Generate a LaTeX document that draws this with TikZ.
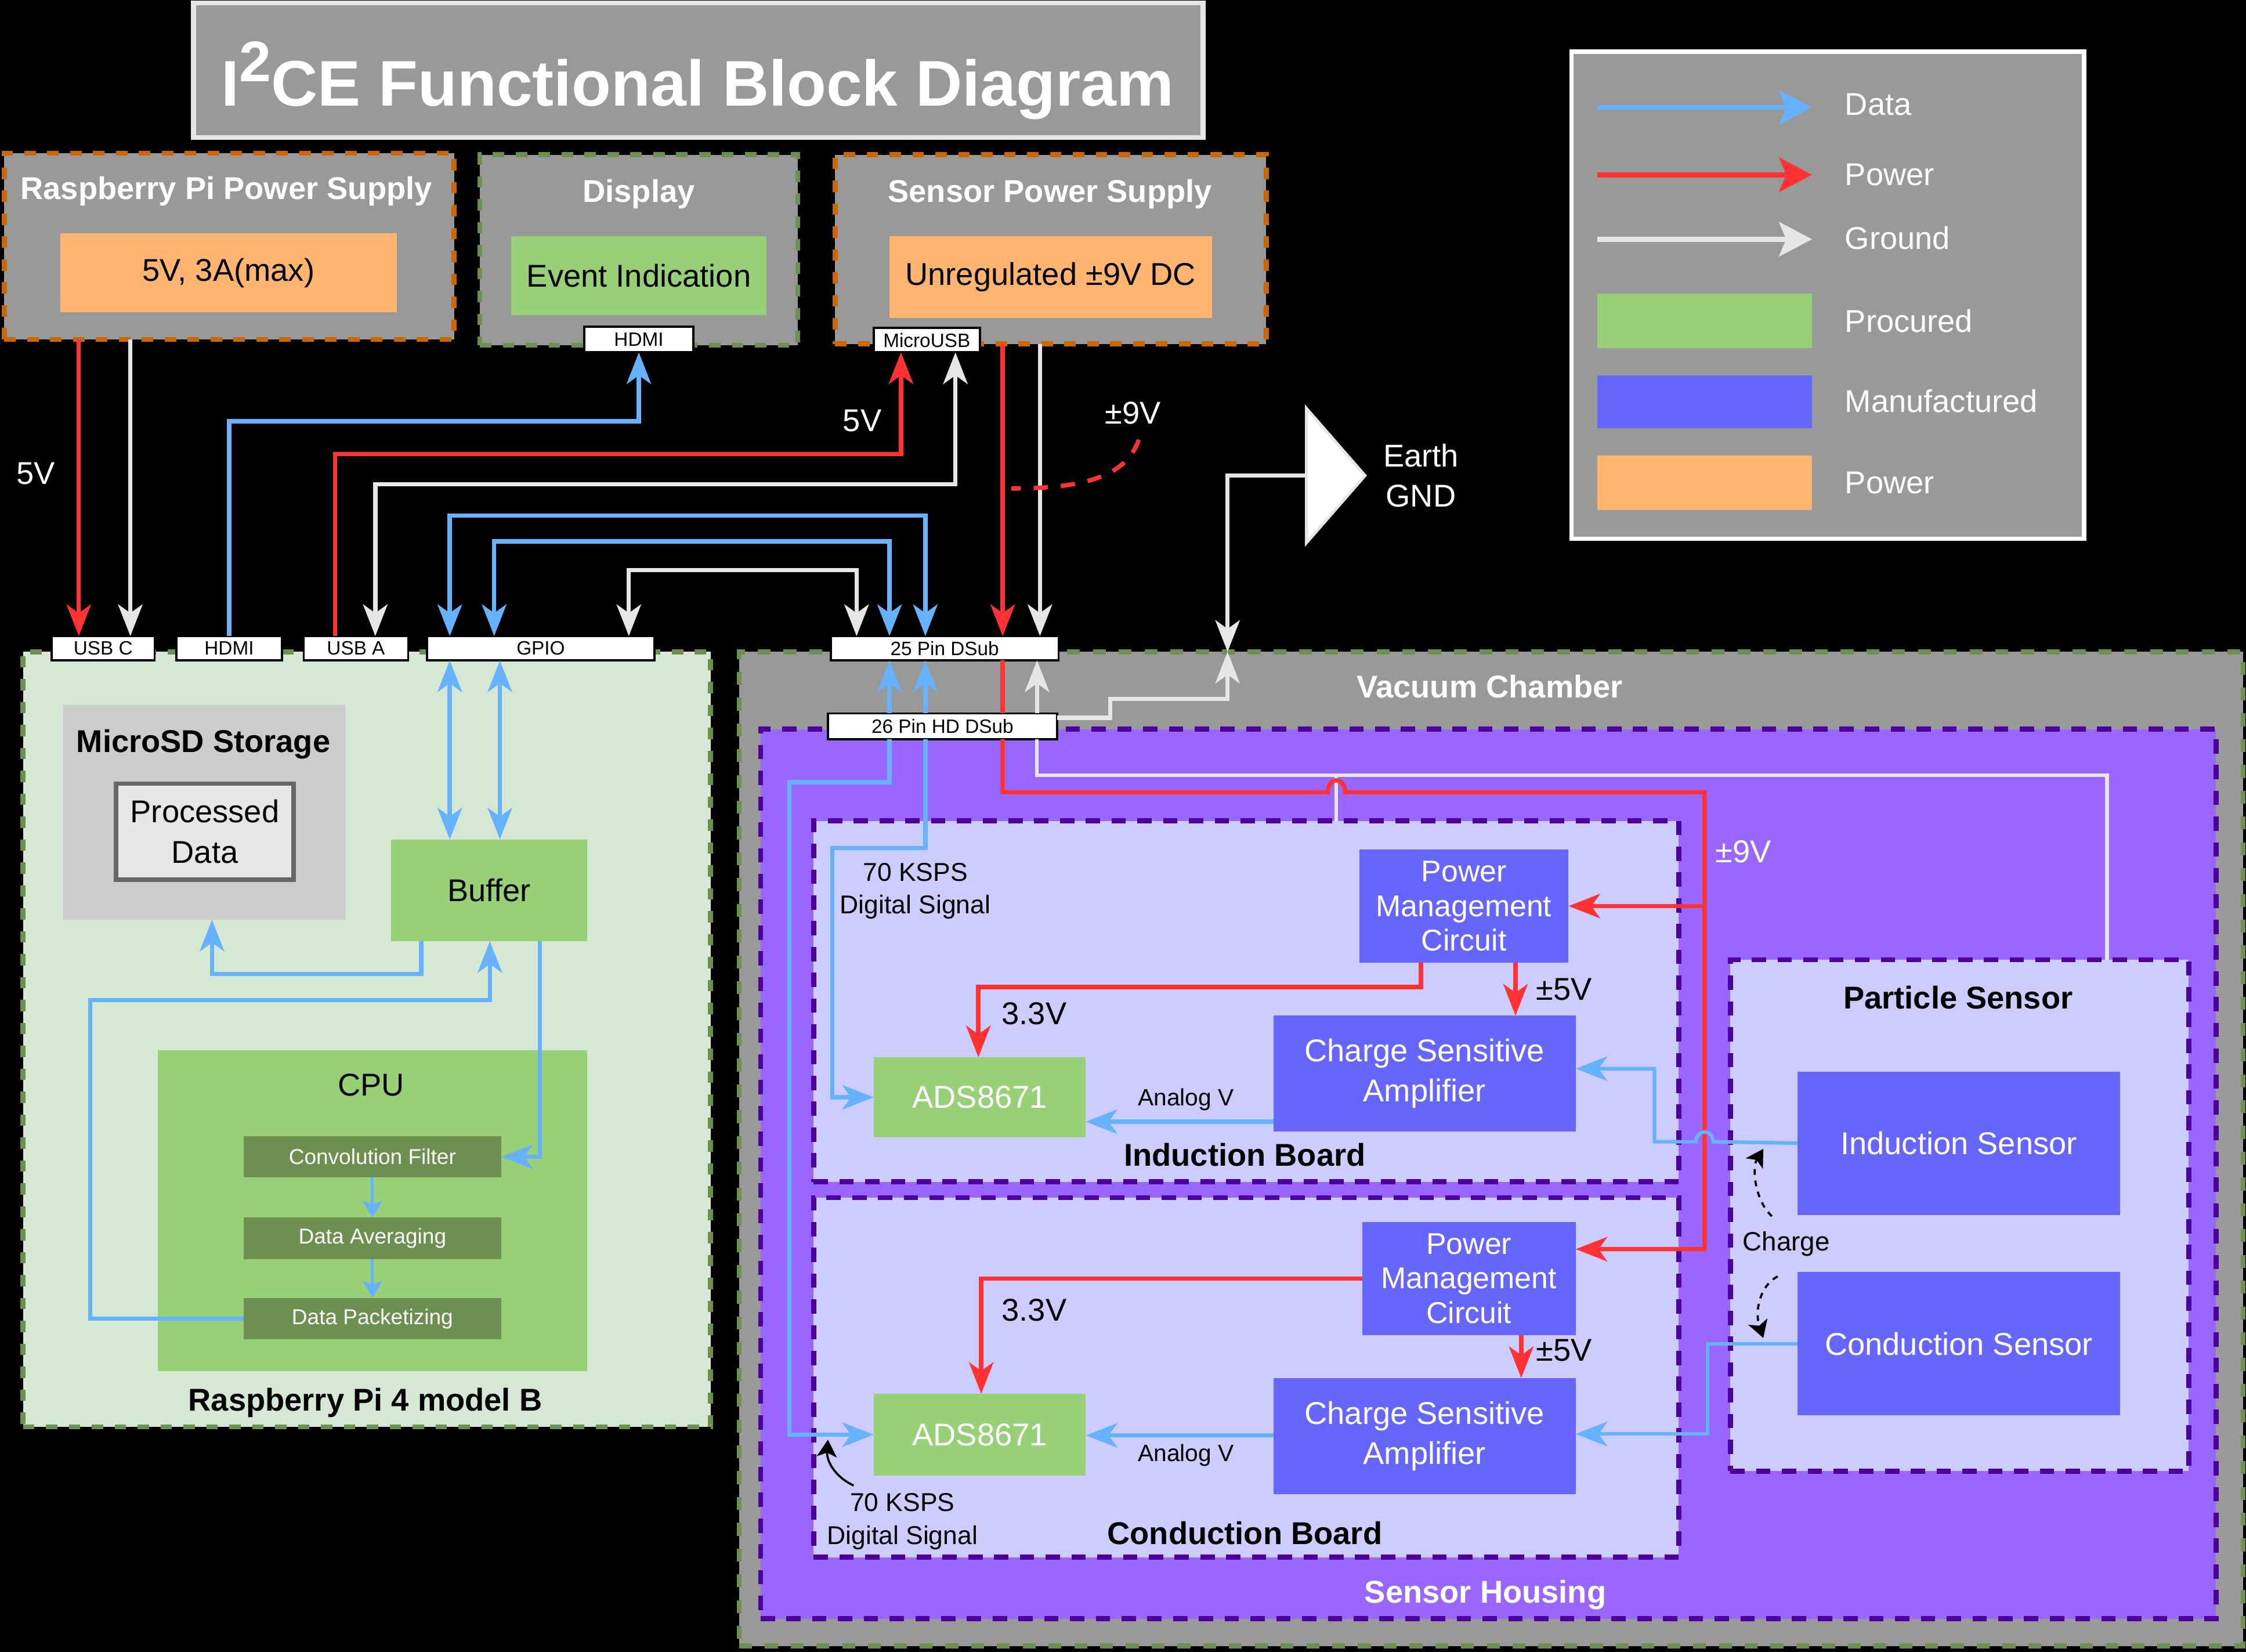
\documentclass[tikz,border=0pt]{standalone}
\usepackage{fontspec}
\setmainfont{Liberation Sans}
\usepackage{tikz}
\usetikzlibrary{arrows.meta,positioning,calc}
\usepackage{xcolor}
\definecolor{boxgray}{HTML}{999999}
\definecolor{gndgray}{HTML}{E6E6E6}
\definecolor{datablue}{HTML}{66B2FF}
\definecolor{pwrred}{HTML}{FF3333}
\definecolor{procgreen}{HTML}{97D077}
\definecolor{manublue}{HTML}{6666FF}
\definecolor{pwrorange}{HTML}{FFB570}
\definecolor{orgdash}{HTML}{CC6600}
\definecolor{grndash}{HTML}{6D8F50}
\definecolor{rpigreen}{HTML}{D5E8D4}
\definecolor{housingfill}{HTML}{9966FF}
\definecolor{purpdash}{HTML}{4C0099}
\definecolor{boardfill}{HTML}{CCCCFF}
\definecolor{sdgray}{HTML}{CCCCCC}
\definecolor{cpugreen}{HTML}{6D8F50}

\begin{document}
\begin{tikzpicture}[x=1pt,y=-1pt,>={Stealth[length=22pt,width=17pt,inset=6pt]},
  every node/.style={font=\fontsize{22}{26}\selectfont,inner sep=0pt,outer sep=0pt}]
\tikzstyle{grpbox}=[fill=boxgray,line width=3.5pt,dash pattern=on 8pt off 8pt]
\tikzstyle{port}=[draw=black,fill=white,line width=1.5pt,font=\fontsize{13.5}{16}\selectfont]
\tikzstyle{procbox}=[fill=procgreen]
\tikzstyle{manubox}=[fill=manublue,text=white,align=center]
\tikzstyle{pwrbox}=[fill=pwrorange]
\tikzstyle{board}=[fill=boardfill,draw=purpdash,line width=3.5pt,dash pattern=on 10pt off 8pt]
\tikzstyle{ttl}=[anchor=base,font=\bfseries\fontsize{22}{26}\selectfont]
\tikzstyle{lbl}=[anchor=base]
\tikzstyle{dataline}=[draw=datablue,line width=3pt]
\tikzstyle{pwrline}=[draw=pwrred,line width=3pt]
\tikzstyle{gndline}=[draw=gndgray,line width=3pt]
\tikzstyle{smalltip}=[-{Stealth[length=12pt,width=14pt,inset=3pt]}]
\tikzstyle{cpustep}=[fill=cpugreen,text=white,minimum width=180pt,minimum height=29pt,font=\fontsize{15}{18}\selectfont]
\useasboundingbox (0,0) rectangle (1568,1153);
\fill[black] (0,0) rectangle (1568,1153);

% title and legend
\node[draw=gndgray,line width=3.5pt,fill=boxgray,minimum width=705pt,minimum height=94pt] (title) at (487.5,49) {};
\node[anchor=base,text=white,font=\bfseries\fontsize{45}{54}\selectfont] (titlet) at (487,74) {I\raisebox{17pt}{\fontsize{40}{40}\selectfont 2}CE Functional Block Diagram};
\node[draw=white,line width=3pt,fill=boxgray,minimum width=358pt,minimum height=340pt] (legend) at (1276,206) {};
\node[procbox,minimum width=150pt,minimum height=38pt] (swproc) at (1190,224) {};
\node[fill=manublue,minimum width=150pt,minimum height=37pt] (swmanu) at (1190,280.5) {};
\node[pwrbox,minimum width=150pt,minimum height=38pt] (swpwr) at (1190,337) {};
\coordinate (lgdata) at (1115,75);
\coordinate (lgpwr) at (1115,122);
\coordinate (lggnd) at (1115,167);
\draw[dataline,line width=3.5pt,-{Stealth[length=23pt,width=24pt,inset=5pt]}] (lgdata) -- (lgdata -| swproc.east);
\draw[pwrline,line width=3.5pt,-{Stealth[length=23pt,width=24pt,inset=5pt]}] (lgpwr) -- (lgpwr -| swproc.east);
\draw[gndline,line width=3.5pt,-{Stealth[length=23pt,width=24pt,inset=5pt]}] (lggnd) -- (lggnd -| swproc.east);
\node[anchor=west,text=white] (lgdatat) at (1288,73) {Data};
\node[anchor=west,text=white] (lgpwrt) at (1288,122) {Power};
\node[anchor=west,text=white] (lggndt) at (1288,166) {Ground};
\node[anchor=west,text=white] (lgproct) at (1288,224) {Procured};
\node[anchor=west,text=white] (lgmanut) at (1288,280) {Manufactured};
\node[anchor=west,text=white] (lgpwrbt) at (1288,337) {Power};

% supplies and display
\node[grpbox,draw=orgdash,minimum width=314pt,minimum height=130pt] (rpips) at (160,172) {};
\node[ttl,text=white] (rpipst) at (158,139) {Raspberry Pi Power Supply};
\node[pwrbox,minimum width=235pt,minimum height=55pt] (rpipsv) at (159.5,190.5) {5V, 3A(max)};
\node[grpbox,draw=grndash,minimum width=222pt,minimum height=133pt] (display) at (446,174.5) {};
\node[ttl,text=white] (displayt) at (446,141) {Display};
\node[procbox,minimum width=178pt,minimum height=55pt] (event) at (446,192.5) {Event Indication};
\node[port,minimum width=76pt,minimum height=18pt] (hdmid) at (446,237) {HDMI};
\node[grpbox,draw=orgdash,minimum width=301pt,minimum height=132pt] (sensps) at (733.5,174) {};
\node[ttl,text=white] (senspst) at (733,141) {Sensor Power Supply};
\node[pwrbox,minimum width=225pt,minimum height=57pt] (unreg) at (733.5,193.5) {Unregulated ±9V DC};
\node[port,minimum width=74pt,minimum height=17pt] (musb) at (647,237.5) {MicroUSB};

% earth ground
\filldraw[fill=white,draw=gndgray,line width=2pt] (912,285) -- (953,332) -- (912,379) -- cycle;
\coordinate (earth) at (912,332);
\node[text=white,align=center,font=\fontsize{22}{28}\selectfont] (eartht) at (992,332) {Earth\\GND};

% raspberry pi
\node[fill=rpigreen,draw=grndash,line width=3.5pt,dash pattern=on 8pt off 8pt,minimum width=480pt,minimum height=541pt] (rpi) at (256,725.5) {};
\node[ttl] (rpit) at (255,985) {Raspberry Pi 4 model B};
\node[fill=sdgray,minimum width=197pt,minimum height=150pt] (msd) at (142.5,567) {};
\node[ttl] (msdt) at (142,525) {MicroSD Storage};
\node[draw=black!60,fill=gndgray,line width=3pt,minimum width=124pt,minimum height=67pt,align=center,font=\fontsize{22}{28}\selectfont] (procdata) at (143,580.5) {Processed\\Data};
\node[procbox,minimum width=137pt,minimum height=71pt] (buffer) at (341.5,621.5) {Buffer};
\node[procbox,minimum width=300pt,minimum height=224pt] (cpu) at (260,845) {};
\node[lbl] (cput) at (259,765) {CPU};
\node[cpustep] (conv) at (260,807.5) {Convolution Filter};
\node[cpustep,below=28pt of conv] (avg) {Data Averaging};
\node[cpustep,below=27pt of avg] (pack) {Data Packetizing};
\node[port,minimum width=72pt,minimum height=17pt] (usbc) at (72,452.5) {USB C};
\node[port,minimum width=74pt,minimum height=17pt] (hdmir) at (160,452.5) {HDMI};
\node[port,minimum width=73pt,minimum height=17pt] (usba) at (248.5,452.5) {USB A};
\node[port,minimum width=159pt,minimum height=17pt] (gpio) at (377.5,452.5) {GPIO};

% vacuum chamber and sensor housing
\node[fill=boxgray,draw=grndash,line width=3.5pt,dash pattern=on 9pt off 9pt,minimum width=1050pt,minimum height=694pt] (vac) at (1041,802) {};
\node[ttl,text=white] (vact) at (1040,487) {Vacuum Chamber};
\node[port,minimum width=159pt,minimum height=17pt] (dsub25) at (659.5,452.5) {25 Pin DSub};
\node[fill=housingfill,draw=purpdash,line width=3.5pt,dash pattern=on 10pt off 8pt,minimum width=1016pt,minimum height=621pt] (housing) at (1039,819.5) {};
\node[ttl,text=white] (housingt) at (1037,1119) {Sensor Housing};
\node[port,minimum width=160pt,minimum height=18pt] (dsub26) at (658,507) {26 Pin HD DSub};

% induction board
\node[board,minimum width=604pt,minimum height=252pt] (indb) at (870,699) {};
\node[ttl] (indbt) at (869,814) {Induction Board};
\node[manubox,minimum width=146pt,minimum height=79pt,font=\fontsize{21}{24}\selectfont] (pmc1) at (1022,632.5) {Power\\Management\\Circuit};
\node[manubox,minimum width=211pt,minimum height=81pt,font=\fontsize{22}{28}\selectfont] (csa1) at (994.5,749.5) {Charge Sensitive\\Amplifier};
\node[procbox,text=white,minimum width=148pt,minimum height=56pt] (ads1) at (684,766) {ADS8671};

% conduction board
\node[board,minimum width=604pt,minimum height=251pt] (condb) at (870,961.5) {};
\node[ttl] (condbt) at (869,1078) {Conduction Board};
\node[manubox,minimum width=149pt,minimum height=79pt,font=\fontsize{21}{24}\selectfont] (pmc2) at (1025.5,892.5) {Power\\Management\\Circuit};
\node[manubox,minimum width=211pt,minimum height=81pt,font=\fontsize{22}{28}\selectfont] (csa2) at (994.5,1002.5) {Charge Sensitive\\Amplifier};
\node[procbox,text=white,minimum width=148pt,minimum height=57pt] (ads2) at (684,1001.5) {ADS8671};

% particle sensor
\node[board,minimum width=320pt,minimum height=357pt] (psens) at (1368,848.5) {};
\node[ttl] (psenst) at (1367,704) {Particle Sensor};
\node[manubox,minimum width=225pt,minimum height=100pt] (indsens) at (1367.5,798) {Induction Sensor};
\node[manubox,minimum width=225pt,minimum height=100pt] (consens) at (1367.5,938) {Conduction Sensor};

% labels
\node[lbl,text=white] (l5va) at (25,338) {5V};
\node[lbl,text=white] (l5vb) at (602,301) {5V};
\node[lbl,text=white] (l9va) at (791,296) {±9V};
\node[lbl,text=white] (l9vb) at (1217,602) {±9V};
\node[lbl] (l33a) at (722,715) {3.3V};
\node[lbl] (l33b) at (722,922) {3.3V};
\node[lbl] (l5pa) at (1092,698) {±5V};
\node[lbl] (l5pb) at (1092,950) {±5V};
\node[lbl,font=\fontsize{16.5}{20}\selectfont] (lana) at (828,772) {Analog V};
\node[lbl,font=\fontsize{16.5}{20}\selectfont] (lanb) at (828,1020) {Analog V};
\node[align=center,font=\fontsize{18}{23}\selectfont] (kspsa) at (639,622) {70 KSPS\\Digital Signal};
\node[align=center,font=\fontsize{18}{23}\selectfont] (kspsb) at (630,1062) {70 KSPS\\Digital Signal};
\node[lbl,font=\fontsize{18.5}{22}\selectfont] (lcharge) at (1247,873) {Charge};

% top wiring
\draw[pwrline,->] (rpips.south -| 55,0) -- (usbc.north -| 55,0);
\draw[gndline,->] (rpips.south -| 91,0) -- (usbc.north -| 91,0);
\draw[dataline,->] (hdmir.north) |- (446,294) -- (hdmid.south);
\draw[pwrline,->] (usba.north -| 234,0) |- (629,317) -- (musb.south -| 629,0);
\draw[gndline,<->] (usba.north -| 262,0) |- (667,338) -- (musb.south -| 667,0);
\draw[dataline,<->] (gpio.north -| 314,0) |- (646,360) -- (dsub25.north -| 646,0);
\draw[dataline,<->] (gpio.north -| 345,0) |- (621,378) -- (dsub25.north -| 621,0);
\draw[gndline,<->] (gpio.north -| 439,0) |- (598,398) -- (dsub25.north -| 598,0);
\draw[pwrline,->] (sensps.south -| 700,0) -- (dsub25.north -| 700,0);
\draw[gndline,->] (sensps.south -| 726,0) -- (dsub25.north -| 726,0);
\draw[pwrline,dash pattern=on 10pt off 9pt] (795,307) .. controls (786,333) and (756,341) .. (706,341);
\draw[gndline,->] (earth) -| (vac.north -| 857,0);
\draw[gndline,->] (dsub26.east |- 0,501) -| (775,488) -| (vac.north -| 857,0);

% raspberry pi wiring
\draw[dataline,<->] (gpio.south -| 314,0) -- (buffer.north -| 314,0);
\draw[dataline,<->] (gpio.south -| 349,0) -- (buffer.north -| 349,0);
\draw[dataline,->] (buffer.south -| 294,0) |- (148,680) -- (msd.south -| 148,0);
\draw[dataline,->] (pack.west) -| (63,698) -| (buffer.south -| 342,0);
\draw[dataline,->] (buffer.south -| 377,0) |- (conv.east);
\draw[dataline,line width=2pt,smalltip] (conv.south) -- (avg.north);
\draw[dataline,line width=2pt,smalltip] (avg.south) -- (pack.north);

% feedthrough
\draw[dataline,->] (dsub26.north -| 621,0) -- (dsub25.south -| 621,0);
\draw[dataline,->] (dsub26.north -| 646,0) -- (dsub25.south -| 646,0);
\draw[pwrline] (dsub25.south -| 700,0) -- (dsub26.north -| 700,0);
\draw[gndline,->] (dsub26.north -| 724,0) -- (dsub25.south -| 724,0);

% sensor housing wiring
\coordinate (gndtap) at (933,541);
\coordinate (pwrtap) at (1190,632.5);
\draw[gndline,line width=2.5pt] (dsub26.south -| 724,0) |- (1471,541) -- (psens.north -| 1471,0);
\draw[gndline,line width=2.5pt] (gndtap) -- (indb.north -| 933,0);
\draw[dataline,->] (dsub26.south -| 621,0) |- (551,546) |- (ads2.west);
\draw[dataline,->] (dsub26.south -| 646,0) |- (581,592) |- (ads1.west);
\draw[pwrline,->] (dsub26.south -| 700,0) |- (927,553) .. controls (927,542) and (939,542) .. (939,553) -| (1190,872) -- (pmc2.east |- 0,872);
\draw[pwrline,->] (pwrtap) -- (pmc1.east);
\draw[dataline,line width=2.5pt,->] (indsens.west) -- (1196,797) .. controls (1196,788) and (1184,788) .. (1184,797) -| (1155,746) -- (csa1.east |- 0,746);
\draw[dataline,line width=2.5pt,->] (consens.west) -| (1192,1001) -- (csa2.east |- 0,1001);

% boards
\draw[pwrline,->] (pmc1.south -| 992,0) |- (683,689) -- (ads1.north -| 683,0);
\draw[pwrline,->] (pmc1.south -| 1058,0) -- (csa1.north -| 1058,0);
\draw[dataline,->] (csa1.west |- 0,783) -- (ads1.east |- 0,783);
\draw[pwrline,->] (pmc2.west) -| (ads2.north -| 685,0);
\draw[pwrline,->] (pmc2.south -| 1062,0) -- (csa2.north -| 1062,0);
\draw[dataline,->] (csa2.west |- 0,1002) -- (ads2.east |- 0,1002);

% annotations
\coordinate (kspstail) at (596,1037);
\coordinate (kspshead) at (578,1005);
\draw[line width=1.5pt,smalltip] (kspstail) .. controls (583,1031) and (577,1020) .. (kspshead);
\coordinate (chgup) at (1237,849);
\coordinate (chgupend) at (1231,802);
\coordinate (chgdn) at (1241,891);
\coordinate (chgdnend) at (1231,934);
\draw[line width=1.5pt,dash pattern=on 4pt off 4pt,smalltip] (chgup) .. controls (1225,838) and (1223,815) .. (chgupend);
\draw[line width=1.5pt,dash pattern=on 4pt off 4pt,smalltip] (chgdn) .. controls (1228,898) and (1225,916) .. (chgdnend);
\end{tikzpicture}
\end{document}
